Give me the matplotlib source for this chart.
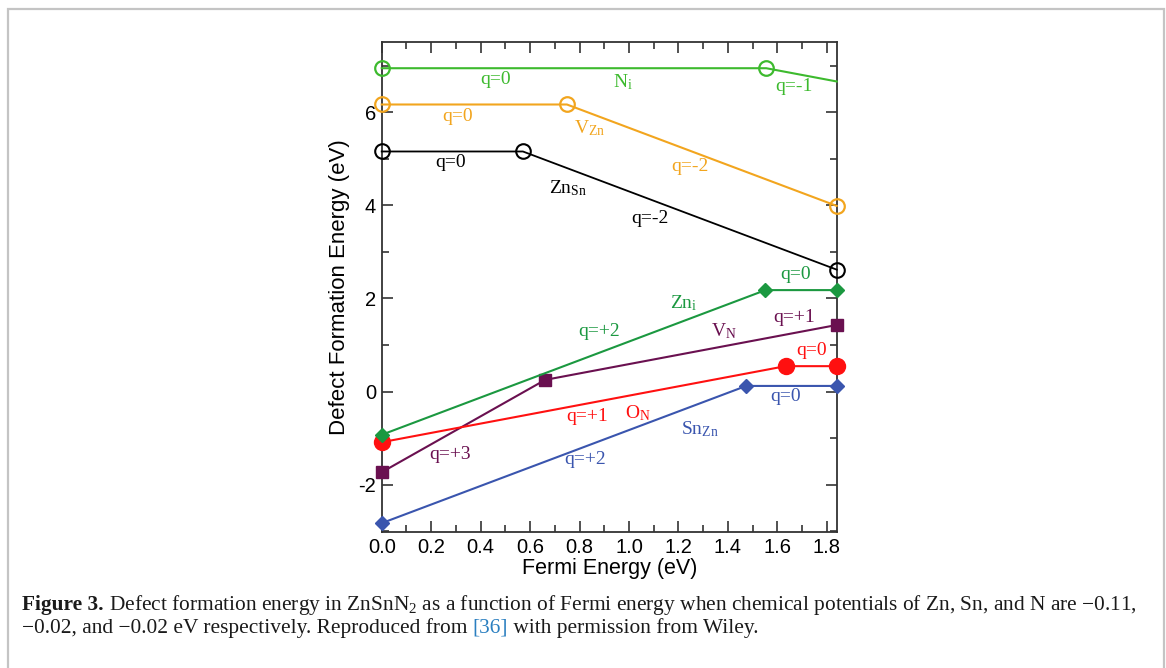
import matplotlib
matplotlib.use("Agg")
import matplotlib.pyplot as plt
from matplotlib.patches import Rectangle
from matplotlib.ticker import MultipleLocator

plt.rcParams['mathtext.fontset'] = 'custom'
plt.rcParams['mathtext.rm'] = 'Liberation Serif'
plt.rcParams['mathtext.it'] = 'Liberation Serif:italic'
plt.rcParams['mathtext.bf'] = 'Liberation Serif:bold'
plt.rcParams['axes.unicode_minus'] = False

# ---------------- data ----------------
Ni_x = [0.0, 1.555, 1.84]
Ni_y = [6.95, 6.95, 6.665]
VZn_x = [0.0, 0.749, 1.84]
VZn_y = [6.17, 6.17, 3.99]
ZnSn_x = [0.0, 0.571, 1.84]
ZnSn_y = [5.16, 5.16, 2.62]
Zni_x = [0.0, 1.552, 1.84]
Zni_y = [-0.93, 2.18, 2.18]
VN_x = [0.0, 0.661, 1.84]
VN_y = [-1.735, 0.25, 1.43]
ON_x = [0.0, 1.633, 1.84]
ON_y = [-1.09, 0.545, 0.545]
SnZn_x = [0.0, 1.474, 1.84]
SnZn_y = [-2.83, 0.12, 0.12]

x_ticks = [0.0, 0.2, 0.4, 0.6, 0.8, 1.0, 1.2, 1.4, 1.6, 1.8]
x_ticklabels = ["0.0", "0.2", "0.4", "0.6", "0.8", "1.0", "1.2", "1.4", "1.6", "1.8"]
y_ticks = [-2, 0, 2, 4, 6]
y_ticklabels = ["-2", "0", "2", "4", "6"]

C_NI = '#3dba2e'
C_VZN = '#f2a51e'
C_ZNSN = '#000000'
C_ZNI = '#1b9840'
C_VN = '#6a1050'
C_ON = '#ff1010'
C_SNZN = '#3a55ae'

# annotation labels: (text, x, y, color)
labels = [
    ("q=0", 0.46, 6.70, C_NI),
    (r"N$_\mathregular{i}$", 0.975, 6.66, C_NI),
    ("q=-1", 1.666, 6.555, C_NI),
    ("q=0", 0.306, 5.91, C_VZN),
    (r"V$_\mathregular{Zn}$", 0.84, 5.66, C_VZN),
    ("q=-2", 1.248, 4.83, C_VZN),
    ("q=0", 0.277, 4.92, C_ZNSN),
    (r"Zn$_\mathregular{Sn}$", 0.755, 4.38, C_ZNSN),
    ("q=-2", 1.086, 3.72, C_ZNSN),
    ("q=0", 1.673, 2.505, C_ZNI),
    (r"Zn$_\mathregular{i}$", 1.22, 1.90, C_ZNI),
    ("q=+2", 0.881, 1.286, C_ZNI),
    (r"V$_\mathregular{N}$", 1.385, 1.29, C_VN),
    ("q=+1", 1.669, 1.595, C_VN),
    ("q=0", 1.737, 0.877, C_ON),
    ("q=+1", 0.83, -0.54, C_ON),
    (r"O$_\mathregular{N}$", 1.035, -0.46, C_ON),
    (r"Sn$_\mathregular{Zn}$", 1.285, -0.80, C_SNZN),
    ("q=0", 1.633, -0.11, C_SNZN),
    ("q=+3", 0.277, -1.344, C_VN),
    ("q=+2", 0.823, -1.458, C_SNZN),
]

# ---------------- figure ----------------
W, H = 1166, 668
fig = plt.figure(figsize=(W / 100, H / 100), dpi=100)
fig.patch.set_facecolor('white')

# page frame
fig.patches.append(Rectangle((8 / W, -0.1), (1164 - 8) / W, (H - 9) / H + 0.1,
                             transform=fig.transFigure, fill=False,
                             edgecolor='#c4c4c4', linewidth=1.6))

ax = fig.add_axes([381.7 / W, 1 - 532 / H, (836.7 - 381.7) / W, (532 - 41.7) / H])

lw = 1.5
ax.plot(Ni_x, Ni_y, color=C_NI, lw=lw, marker='o', ms=10.5, mfc='none',
        mew=1.6, markevery=[0, 1], clip_on=False, zorder=3)
ax.plot(VZn_x, VZn_y, color=C_VZN, lw=lw, marker='o', ms=10.5, mfc='none',
        mew=1.6, clip_on=False, zorder=3)
ax.plot(ZnSn_x, ZnSn_y, color=C_ZNSN, lw=1.3, marker='o', ms=10.5, mfc='none',
        mew=1.5, clip_on=False, zorder=3)
ax.plot(SnZn_x, SnZn_y, color=C_SNZN, lw=lw, marker='D', ms=7.5,
        clip_on=False, zorder=4)
ax.plot(VN_x, VN_y, color=C_VN, lw=lw, marker='s', ms=8.5,
        clip_on=False, zorder=4)
ax.plot(ON_x, ON_y, color=C_ON, lw=lw, marker='o', ms=11.5,
        clip_on=False, zorder=4)
ax.plot(Zni_x, Zni_y, color=C_ZNI, lw=lw, marker='D', ms=7.5,
        clip_on=False, zorder=5)

for t, x, y, c in labels:
    ax.text(x, y, t, color=c, fontsize=14, family='Liberation Serif',
            ha='center', va='center')

ax.set_xlim(0, 1.84)
ax.set_ylim(-3.02, 7.52)
ax.set_xticks(x_ticks)
ax.set_xticklabels(x_ticklabels)
ax.set_yticks(y_ticks)
ax.set_yticklabels(y_ticklabels)
ax.xaxis.set_minor_locator(MultipleLocator(0.1))
ax.yaxis.set_minor_locator(MultipleLocator(1))
ax.tick_params(which='both', direction='in', top=True, right=True,
               color='#333333', width=1.2)
ax.tick_params(which='major', length=8, labelsize=14.5, pad=4)
ax.tick_params(which='minor', length=5)
for lab in ax.get_xticklabels() + ax.get_yticklabels():
    lab.set_family('Liberation Sans')
for s in ax.spines.values():
    s.set_color('#333333')
    s.set_linewidth(1.3)

ax.set_xlabel("Fermi Energy (eV)", family='Liberation Sans', fontsize=15.5, labelpad=1)
ax.set_ylabel("Defect Formation Energy (eV)", family='Liberation Sans', fontsize=16, labelpad=6)

# ---------------- caption ----------------
renderer = fig.canvas.get_renderer()
cap_fs = 13.0
cap_color = '#1a1a1a'
link_color = '#2a7fc0'


def draw_runs(x0, y0, runs, fs):
    x = x0
    for txt, weight, col in runs:
        t = fig.text(x / W, 1 - y0 / H, txt, fontsize=fs, family='Liberation Serif',
                     weight=weight, color=col, ha='left', va='baseline')
        bb = t.get_window_extent(renderer)
        x += bb.width
    return x


line1 = [("Figure 3.", 'bold', cap_color),
         (" Defect formation energy in ZnSnN$_2$ as a function of Fermi energy when chemical potentials of Zn, Sn, and N are \u22120.11,", 'normal', cap_color)]
line2 = [("\u22120.02, and \u22120.02 eV respectively. Reproduced from ", 'normal', cap_color),
         ("[36]", 'normal', link_color),
         (" with permission from Wiley.", 'normal', cap_color)]

# measure width of line 1 to fit target span
probe = []
tot = 0
for txt, weight, col in line1:
    t = fig.text(0, 0, txt, fontsize=cap_fs, family='Liberation Serif', weight=weight)
    tot += t.get_window_extent(renderer).width
    t.remove()
fs = cap_fs * (1135 - 22) / tot

draw_runs(22, 610, line1, fs)
draw_runs(22, 633, line2, fs)

fig.savefig("out.png", dpi=100)
